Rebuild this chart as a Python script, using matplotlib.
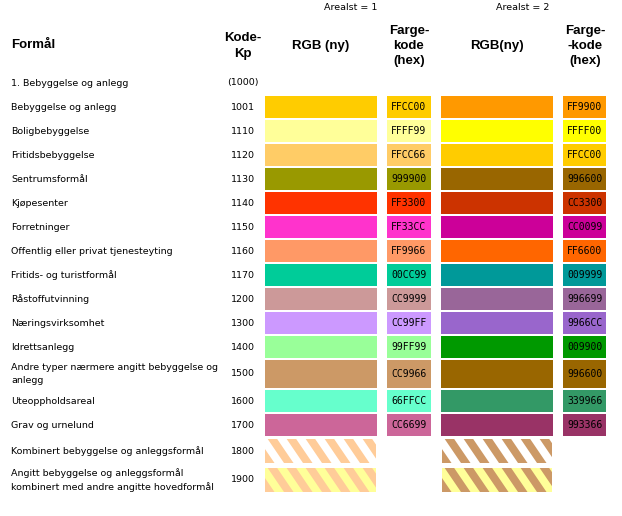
import matplotlib
matplotlib.use("Agg")
import matplotlib.pyplot as plt
from matplotlib.patches import Rectangle, Polygon

# ---------------- data ----------------
names = [
    "Bebyggelse og anlegg",
    "Boligbebyggelse",
    "Fritidsbebyggelse",
    "Sentrumsformål",
    "Kjøpesenter",
    "Forretninger",
    "Offentlig eller privat tjenesteyting",
    "Fritids- og turistformål",
    "Råstoffutvinning",
    "Næringsvirksomhet",
    "Idrettsanlegg",
    "Andre typer nærmere angitt bebyggelse og\nanlegg",
    "Uteoppholdsareal",
    "Grav og urnelund",
    "Kombinert bebyggelse og anleggsformål",
    "Angitt bebyggelse og anleggsformål\nkombinert med andre angitte hovedformål",
]
codes = ["1001", "1110", "1120", "1130", "1140", "1150", "1160", "1170",
         "1200", "1300", "1400", "1500", "1600", "1700", "1800", "1900"]
hex1 = ["FFCC00", "FFFF99", "FFCC66", "999900", "FF3300", "FF33CC", "FF9966",
        "00CC99", "CC9999", "CC99FF", "99FF99", "CC9966", "66FFCC", "CC6699",
        None, None]
hex2 = ["FF9900", "FFFF00", "FFCC00", "996600", "CC3300", "CC0099", "FF6600",
        "009999", "996699", "9966CC", "009900", "996600", "339966", "993366",
        None, None]
# striped rows: (background, stripe) colours for Arealst = 1 and Arealst = 2
stripes1 = {"1800": ("FFFFFF", "FFCC99"), "1900": ("FFFF99", "FFCC99")}
stripes2 = {"1800": ("FFFFFF", "CC9966"), "1900": ("FFFF99", "CC9966")}

group_label = "1. Bebyggelse og anlegg"
group_code = "(1000)"

# ---------------- layout ----------------
W, H = 622, 516
fig = plt.figure(figsize=(W / 100, H / 100), dpi=100)
ax = fig.add_axes([0, 0, 1, 1])
ax.set_xlim(0, W)
ax.set_ylim(H, 0)
ax.axis("off")

row_h = [22] * 11 + [28, 22, 22, 24, 24]
row_gap = [0] + [2] * 13 + [3, 5]
tops = []
y = 96
for h, g in zip(row_h, row_gap):
    y += g
    tops.append(y)
    y += h

col_rgb1 = (265, 377)
col_hex1 = (387, 431)
col_rgb2 = (441, 553)
col_hex2 = (563, 606)
x_name = 11
x_code = 243

body = dict(family="DejaVu Sans", fontsize=6.8, color="black")
bold = dict(family="Liberation Sans", fontsize=9.5, fontweight="bold", color="black")
mono = dict(family="DejaVu Sans Mono", fontsize=7.0, color="black")

# headers
ax.text(351, 7, "Arealst = 1", ha="center", va="center", **body)
ax.text(523, 7, "Arealst = 2", ha="center", va="center", **body)
ax.text(x_name, 45, "Formål", ha="left", va="center", **bold)
ax.text(x_code, 46, "Kode-\nKp", ha="center", va="center", linespacing=1.35, **bold)
ax.text(320.5, 46, "RGB (ny)", ha="center", va="center", **bold)
ax.text(409, 46, "Farge-\nkode\n(hex)", ha="center", va="center", linespacing=1.35, **bold)
ax.text(497, 46, "RGB(ny)", ha="center", va="center", **bold)
ax.text(585, 46, "Farge-\n-kode\n(hex)", ha="center", va="center", linespacing=1.35, **bold)

ax.text(x_name, 83, group_label, ha="left", va="center", **body)
ax.text(x_code, 83, group_code, ha="center", va="center", **body)


def striped(x0, x1, top, h, bg, fg):
    rect = Rectangle((x0, top), x1 - x0, h, facecolor="#" + bg, edgecolor="none")
    ax.add_patch(rect)
    period = 19.0
    band = period / 2
    slope = 0.68  # horizontal shift per pixel down
    start = x0 - h * slope - period
    k = 0
    while start + k * period < x1 + period:
        xs = start + k * period
        poly = Polygon([(xs, top), (xs + band, top),
                        (xs + band + h * slope, top + h), (xs + h * slope, top + h)],
                       closed=True, facecolor="#" + fg, edgecolor="none")
        ax.add_patch(poly)
        poly.set_clip_path(rect)
        k += 1


for i, (name, code) in enumerate(zip(names, codes)):
    top, h = tops[i], row_h[i]
    yc = top + h / 2
    ax.text(x_name, yc, name, ha="left", va="center", linespacing=1.6, **body)
    ax.text(x_code, yc, code, ha="center", va="center", **body)
    if hex1[i] is not None:
        ax.add_patch(Rectangle((col_rgb1[0], top), col_rgb1[1] - col_rgb1[0], h,
                               facecolor="#" + hex1[i], edgecolor="none"))
        ax.add_patch(Rectangle((col_hex1[0], top), col_hex1[1] - col_hex1[0], h,
                               facecolor="#" + hex1[i], edgecolor="none"))
        ax.text(sum(col_hex1) / 2, yc, hex1[i], ha="center", va="center", **mono)
    else:
        bg, fg = stripes1[code]
        striped(col_rgb1[0], col_rgb1[1] - 1, top, h, bg, fg)
    if hex2[i] is not None:
        ax.add_patch(Rectangle((col_rgb2[0], top), col_rgb2[1] - col_rgb2[0], h,
                               facecolor="#" + hex2[i], edgecolor="none"))
        ax.add_patch(Rectangle((col_hex2[0], top), col_hex2[1] - col_hex2[0], h,
                               facecolor="#" + hex2[i], edgecolor="none"))
        ax.text(sum(col_hex2) / 2, yc, hex2[i], ha="center", va="center", **mono)
    else:
        bg, fg = stripes2[code]
        striped(col_rgb2[0] + 1, col_rgb2[1] - 1, top, h, bg, fg)

fig.savefig("out.png", dpi=100, facecolor="white")
